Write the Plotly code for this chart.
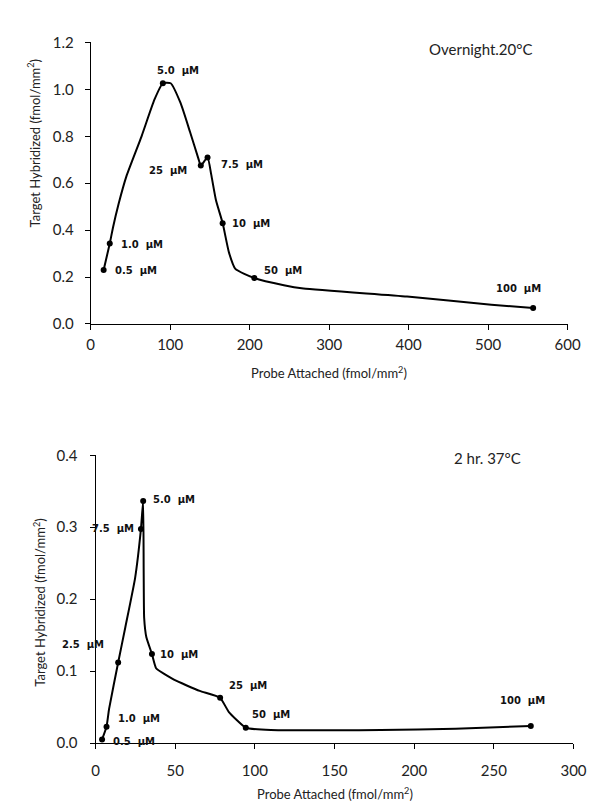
import plotly.graph_objects as go

# ---------------- Data: top panel (Overnight, 20 °C) ----------------
top_labels = ["0.5 µM", "1.0 µM", "5.0 µM", "25 µM", "7.5 µM", "10 µM", "50 µM", "100 µM"]
top_probe = [16.3, 24.0, 90.8, 138.5, 147.0, 166.0, 205.8, 556.6]
top_target = [0.23, 0.343, 1.026, 0.675, 0.71, 0.429, 0.196, 0.068]
# traced curve through the points
top_curve_x = [16.3, 24.0, 28.0, 35.0, 45.0, 64.0, 80.3, 90.8, 100.6, 112.9, 125.0, 135.3, 138.5,
               147.0, 151.6, 157.7, 166.0, 174.0, 182.0, 205.8, 243.0, 267.7, 398.0, 504.0, 556.6]
top_curve_y = [0.23, 0.343, 0.41, 0.51, 0.63, 0.80, 0.957, 1.026, 1.026, 0.943, 0.818, 0.707, 0.675,
               0.71, 0.6375, 0.526, 0.43, 0.304, 0.235, 0.196, 0.165, 0.151, 0.117, 0.082, 0.068]

# ---------------- Data: bottom panel (2 hr, 37 °C) ----------------
bot_labels = ["0.5 µM", "1.0 µM", "2.5 µM", "7.5 µM", "5.0 µM", "10 µM", "25 µM", "50 µM", "100 µM"]
bot_probe = [4.1, 6.9, 14.2, 28.5, 29.9, 35.4, 78.2, 94.3, 273.2]
bot_target = [0.005, 0.0227, 0.112, 0.2976, 0.3366, 0.1237, 0.063, 0.0213, 0.0236]
bot_curve_x = [4.1, 6.9, 8.5, 14.2, 18.7, 24.8, 28.5, 29.9, 30.5, 31.9, 35.4, 38.0, 49.2,
               65.4, 78.2, 83.7, 94.3, 110.0, 179.0, 226.0, 273.2]
bot_curve_y = [0.005, 0.0227, 0.0476, 0.112, 0.161, 0.229, 0.2976, 0.3366, 0.1745, 0.147,
               0.1237, 0.104, 0.088, 0.0725, 0.063, 0.043, 0.0213, 0.018, 0.018, 0.020, 0.0236]

top_ticks = [0, 100, 200, 300, 400, 500, 600]
top_yticks = [0.0, 0.2, 0.4, 0.6, 0.8, 1.0, 1.2]
bot_ticks = [0, 50, 100, 150, 200, 250, 300]
bot_yticks = [0.0, 0.1, 0.2, 0.3, 0.4]

# ---------------- Styling ----------------
W, H = 595, 802
TICK_FONT = dict(family="Lato, 'Open Sans', sans-serif", size=15, color="#222")
TITLE_FONT = dict(family="Lato, 'Open Sans', sans-serif", size=13, color="#222")
LBL_FONT = dict(family="'DejaVu Sans', sans-serif", size=10, color="#111", weight="bold")

# label placement (anchor, xshift, yshift) in pixels relative to the dot
top_lbl_pos = [("left", 9, 0), ("left", 9, -1), ("center", 15, 13), ("right", -12, -5),
               ("left", 11, -7), ("left", 7, 0), ("left", 8, 7), ("center", -15, 20)]
bot_lbl_pos = [("left", 9, -2), ("left", 9, 8), ("right", -12, 18), ("right", -5, 0),
               ("left", 8, 1), ("left", 6, 0), ("left", 7, 12), ("left", 4, 13), ("center", -8, 26)]


def px_x(p):
    return p / W


def px_y(p):
    return 1 - p / H


def spaced(t):
    return t.replace(" ", "\u00a0\u00a0")


fig = go.Figure()

fig.add_trace(go.Scatter(x=top_curve_x, y=top_curve_y, mode="lines",
                         line=dict(color="black", width=2, shape="spline", smoothing=0.5),
                         xaxis="x", yaxis="y", hoverinfo="skip"))
fig.add_trace(go.Scatter(x=top_probe, y=top_target, mode="markers",
                         marker=dict(color="black", size=6),
                         xaxis="x", yaxis="y"))
fig.add_trace(go.Scatter(x=bot_curve_x, y=bot_curve_y, mode="lines",
                         line=dict(color="black", width=2, shape="spline", smoothing=0.4),
                         xaxis="x2", yaxis="y2", hoverinfo="skip"))
fig.add_trace(go.Scatter(x=bot_probe, y=bot_target, mode="markers",
                         marker=dict(color="black", size=6),
                         xaxis="x2", yaxis="y2"))

anns = []
for t, xv, yv, (anc, dx, dy) in zip(top_labels, top_probe, top_target, top_lbl_pos):
    anns.append(dict(x=xv, y=yv, xref="x", yref="y", text=spaced(t), showarrow=False,
                     xanchor=anc, yanchor="middle", xshift=dx, yshift=dy, font=LBL_FONT))
for t, xv, yv, (anc, dx, dy) in zip(bot_labels, bot_probe, bot_target, bot_lbl_pos):
    anns.append(dict(x=xv, y=yv, xref="x2", yref="y2", text=spaced(t), showarrow=False,
                     xanchor=anc, yanchor="middle", xshift=dx, yshift=dy, font=LBL_FONT))

# panel titles
anns.append(dict(x=px_x(482), y=px_y(32), xref="paper", yref="paper", text="Overnight.20°C",
                 showarrow=False, xanchor="center", yanchor="middle",
                 font=dict(family=TICK_FONT["family"], size=15, color="#222")))
anns.append(dict(x=px_x(489), y=px_y(450), xref="paper", yref="paper", text="2 hr. 37°C",
                 showarrow=False, xanchor="center", yanchor="middle",
                 font=dict(family=TICK_FONT["family"], size=15, color="#222")))
# axis titles
anns.append(dict(x=px_x(22), y=px_y(128), xref="paper", yref="paper",
                 text="Target Hybridized (fmol/mm<sup>2</sup>)", textangle=-90,
                 showarrow=False, xanchor="center", yanchor="middle", font=TITLE_FONT))
anns.append(dict(x=px_x(326), y=px_y(363), xref="paper", yref="paper",
                 text="Probe Attached (fmol/mm<sup>2</sup>)",
                 showarrow=False, xanchor="center", yanchor="middle", font=TITLE_FONT))
anns.append(dict(x=px_x(28), y=px_y(598), xref="paper", yref="paper",
                 text="Target Hybridized (fmol/mm<sup>2</sup>)", textangle=-90,
                 showarrow=False, xanchor="center", yanchor="middle", font=TITLE_FONT))
anns.append(dict(x=px_x(333), y=px_y(793), xref="paper", yref="paper",
                 text="Probe Attached (fmol/mm<sup>2</sup>)",
                 showarrow=False, xanchor="center", yanchor="middle", font=TITLE_FONT))

axis_common = dict(showgrid=False, zeroline=False, showline=True, linecolor="black",
                   linewidth=1, ticks="outside", ticklen=5, tickcolor="black",
                   tickfont=TICK_FONT, fixedrange=True)

fig.update_layout(
    width=W, height=H,
    margin=dict(l=0, r=0, t=0, b=0),
    paper_bgcolor="white", plot_bgcolor="white",
    showlegend=False,
    xaxis=dict(domain=[px_x(81), px_x(572)], range=[0, 600], tickvals=top_ticks,
               anchor="y", ticklabelstandoff=2, **axis_common),
    yaxis=dict(domain=[px_y(313), px_y(25)], range=[0, 1.2], tickvals=top_yticks,
               ticktext=[f"{v:.1f}" for v in top_yticks],
               anchor="x", ticklabelstandoff=8, **axis_common),
    xaxis2=dict(domain=[px_x(86), px_x(578)], range=[0, 300], tickvals=bot_ticks,
                anchor="y2", ticklabelstandoff=9, **axis_common),
    yaxis2=dict(domain=[px_y(741.7), px_y(447.3)], range=[0, 0.4], tickvals=bot_yticks,
                ticktext=[f"{v:.1f}" for v in bot_yticks],
                anchor="x2", ticklabelstandoff=9, **axis_common),
    annotations=anns,
)

fig.write_html("out.html")
